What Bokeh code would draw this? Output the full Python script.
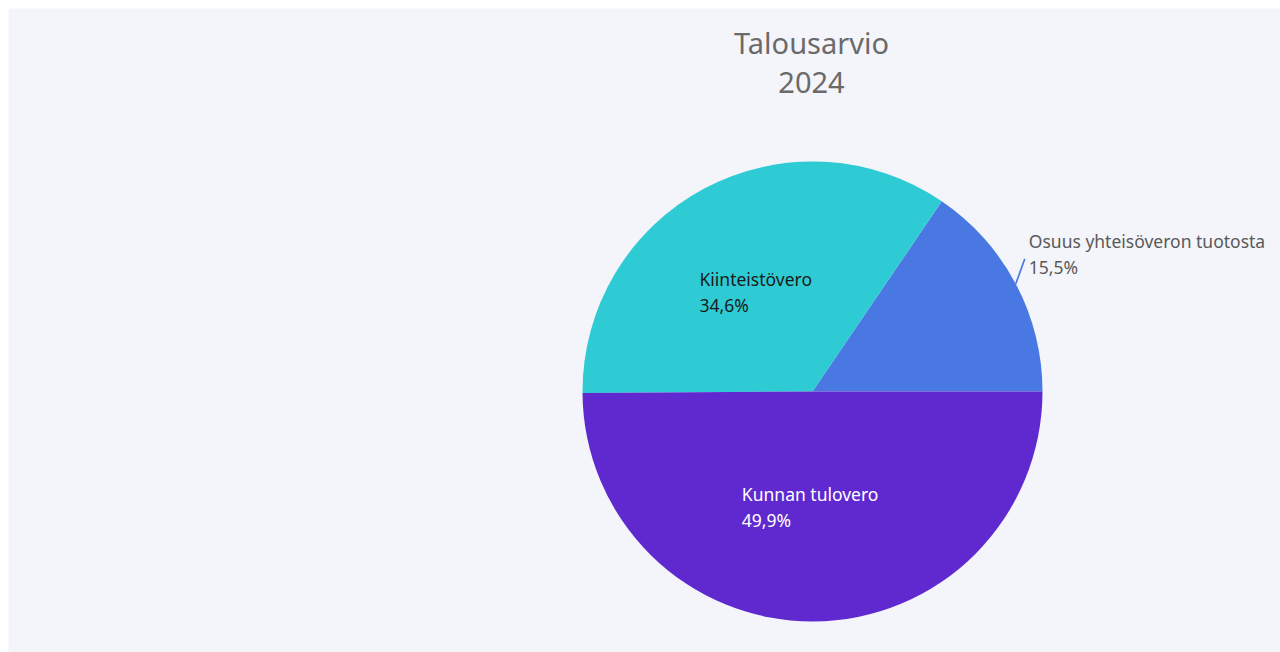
import math
from bokeh.plotting import figure
from bokeh.models import ColumnDataSource, Range1d
from bokeh.core.properties import value
from bokeh.embed import file_html
from bokeh.resources import INLINE

# ---- data ----
title_lines = ["Talousarvio", "2024"]
categories = ["Osuus yhteisöveron tuotosta", "Kiinteistövero", "Kunnan tulovero"]
shares = [15.5, 34.6, 49.9]
pct_labels = ["15,5%", "34,6%", "49,9%"]
colors = ["#4a78e2", "#2ecbd4", "#6029cf"]
label_colors = ["#595959", "#1a1a1a", "#ffffff"]

W, H = 1272, 644
R_PX = 230.0          # pie radius in px
CX, CY = 804, 383     # pie centre in figure px (from top-left)
FONT = "Noto Sans"

p = figure(width=W, height=H, output_backend="svg", toolbar_location=None,
           x_range=Range1d(-CX / R_PX, (W - CX) / R_PX),
           y_range=Range1d(-(H - CY) / R_PX, CY / R_PX),
           min_border=0)
p.margin = (8, 0, 0, 8)
p.axis.visible = False
p.grid.visible = False
p.outline_line_color = None
p.background_fill_color = "#f4f5fa"
p.border_fill_color = "#f4f5fa"

total = sum(shares)
starts, ends = [], []
acc = 0.0
for s in shares:
    starts.append(2 * math.pi * acc / total)
    acc += s
    ends.append(2 * math.pi * acc / total)

src = ColumnDataSource(dict(start=starts, end=ends, color=colors))
p.wedge(x=0, y=0, radius=1.0, start_angle="start", end_angle="end",
        fill_color="color", line_color=None, source=src)

px = 1.0 / R_PX
mids = [(a + b) / 2 for a, b in zip(starts, ends)]

# inside labels
half_w = {1: 60, 2: 71}
y_shift = {1: 0, 2: 3}
for i in (1, 2):
    r = 0.49
    ax, ay = r * math.cos(mids[i]), r * math.sin(mids[i])
    for txt, dy in ((categories[i], -13), (pct_labels[i], 13)):
        p.text(x=[ax], y=[ay], text=[txt], text_align="left", text_baseline="middle",
               x_offset=-half_w[i], y_offset=dy + y_shift[i], text_font=value(FONT),
               text_font_size="17.5px", text_color=label_colors[i])

# outside label with leader line
i = 0
ex, ey = math.cos(mids[i]), math.sin(mids[i])
lx, ly = ex + 9 * px, ey + 25 * px
p.line(x=[ex, lx], y=[ey, ly], line_color=colors[i], line_width=1.6)
for txt, dy in ((categories[i], -13), (pct_labels[i], 13)):
    p.text(x=[lx + 4 * px], y=[ly + 5 * px], text=[txt], text_align="left",
           text_baseline="middle", y_offset=dy, text_font=value(FONT),
           text_font_size="17.5px", text_color=label_colors[i])

# title
ty0 = (CY - 34) / R_PX
for k, t in enumerate(title_lines):
    p.text(x=[-1 * px], y=[ty0 - k * 40 * px], text=[t], text_align="center",
           text_baseline="middle", text_font=value(FONT), text_font_size="29px",
           text_color="#6a6a6a")

open("out.html", "w").write(file_html(p, INLINE))
